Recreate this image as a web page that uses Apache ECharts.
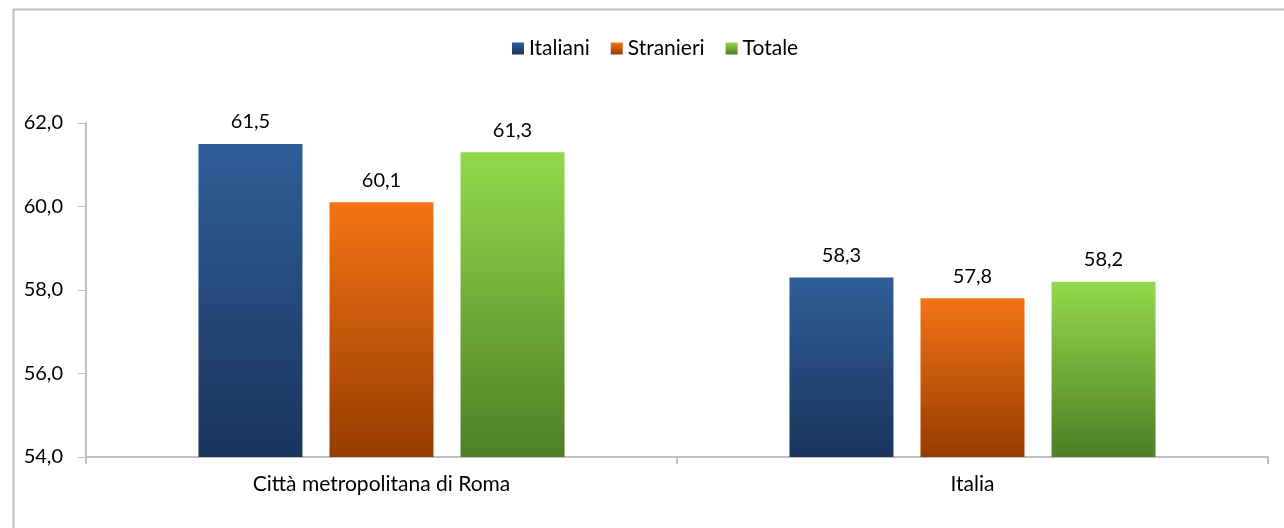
<!DOCTYPE html>
<html>
<head>
<meta charset="utf-8">
<script src="https://cdn.jsdelivr.net/npm/echarts@6/dist/echarts.min.js"></script>
<style>
html,body{margin:0;padding:0;background:#fff;}
#c{width:1284px;height:528px;}
</style>
</head>
<body>
<div id="c"></div>
<script>
const categories = ['Città metropolitana di Roma', 'Italia'];
const seriesNames = ['Italiani', 'Stranieri', 'Totale'];
const italiani = [61.5, 58.3];
const stranieri = [60.1, 57.8];
const totale = [61.3, 58.2];
const yTicks = [54, 56, 58, 60, 62];

const FONT = 'Lato';
const grads = [
  ['#2F5E97', '#1B345D'],
  ['#F47416', '#963C00'],
  ['#93D94C', '#4E7F25']
];
function grad(c) {
  return new echarts.graphic.LinearGradient(0, 0, 0, 1, [
    {offset: 0, color: c[0]}, {offset: 1, color: c[1]}
  ]);
}
const values = [italiani, stranieri, totale];
const chart = echarts.init(document.getElementById('c'), null, {renderer: 'canvas'});
chart.setOption({
  animation: false,
  backgroundColor: '#fff',
  graphic: [{
    type: 'rect', left: 11, top: 7, shape: {width: 1290, height: 540},
    style: {fill: 'none', stroke: '#BDBDBD', lineWidth: 2}, z: -1
  }],
  legend: {
    top: 33, left: 507,
    icon: 'rect',
    itemWidth: 12, itemHeight: 12, itemGap: 21,
    textStyle: {fontFamily: FONT, fontSize: 21, color: '#000'},
    data: seriesNames
  },
  grid: {left: 86, right: 16, top: 123, bottom: 71, containLabel: false},
  xAxis: {
    type: 'category', data: categories,
    axisLine: {lineStyle: {color: '#BFBFBF', width: 2}},
    axisTick: {show: true, length: 7, lineStyle: {color: '#BFBFBF', width: 2}},
    axisLabel: {fontFamily: FONT, fontSize: 21, color: '#000', margin: 17}
  },
  yAxis: {
    type: 'value', min: yTicks[0], max: yTicks[yTicks.length - 1], interval: 2,
    axisLine: {show: true, lineStyle: {color: '#BFBFBF', width: 2}},
    axisTick: {show: true, length: 8, lineStyle: {color: '#BFBFBF', width: 1}},
    splitLine: {show: false},
    axisLabel: {fontFamily: FONT, fontSize: 20, color: '#000', margin: 23,
      formatter: v => v.toFixed(1).replace('.', ',')}
  },
  series: seriesNames.map((n, i) => ({
    name: n, type: 'bar', data: values[i],
    barWidth: 104, barGap: '26%',
    itemStyle: {color: grad(grads[i])},
    label: {show: true, position: 'top', distance: 12, fontFamily: FONT, fontSize: 20, color: '#000',
      formatter: p => p.value.toFixed(1).replace('.', ',')}
  }))
});
</script>
</body>
</html>
